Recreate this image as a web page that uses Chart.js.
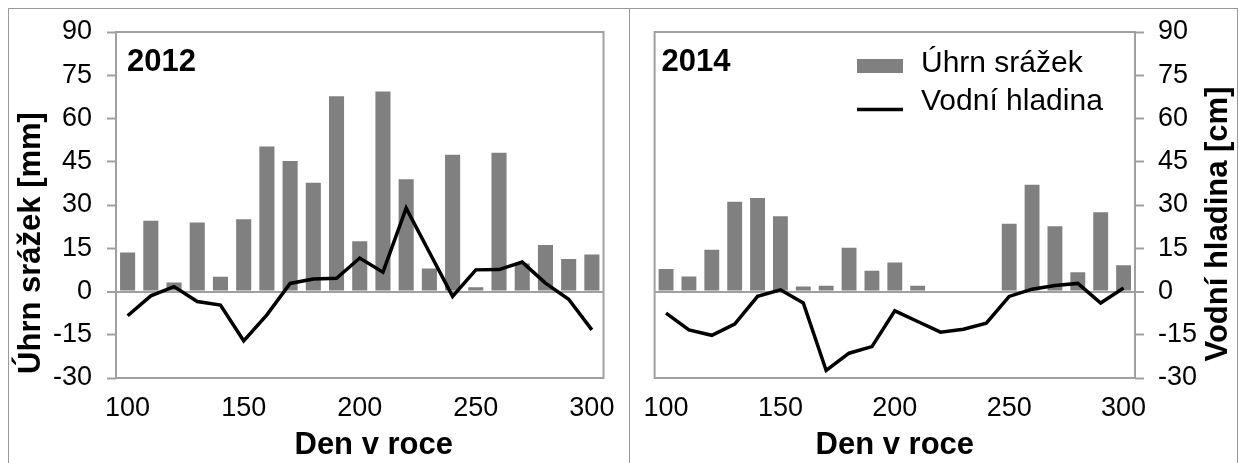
<!DOCTYPE html>
<html>
<head>
<meta charset="utf-8">
<script src="https://cdn.jsdelivr.net/npm/chart.js@4/dist/chart.umd.min.js"></script>
<style>
html,body{margin:0;padding:0;background:#fff;}
#wrap{position:relative;width:1239px;height:463px;overflow:hidden;background:#fff;}
#wrap canvas{position:absolute;top:0;}
.ln{position:absolute;background:#9a9a9a;}
</style>
</head>
<body>
<div id="wrap">
  <canvas id="c1" width="629" height="463" style="left:0;width:629px;height:463px"></canvas>
  <canvas id="c2" width="610" height="463" style="left:629px;width:610px;height:463px"></canvas>
  <div class="ln" style="left:8px;top:8px;width:1230px;height:1px"></div>
  <div class="ln" style="left:8px;top:8px;width:1px;height:455px"></div>
  <div class="ln" style="left:629px;top:8px;width:1px;height:455px"></div>
  <div class="ln" style="left:1237px;top:8px;width:1px;height:455px"></div>
</div>
<script>
// ---- data ----
const days = [100,110,120,130,140,150,160,170,180,190,200,210,220,230,240,250,260,270,280,290,300];
const dayTickLabels = [100,150,200,250,300];
const seriesNames = ['Úhrn srážek','Vodní hladina'];
const years = ['2012','2014'];
const xTitle = 'Den v roce';
const yTitleLeft = 'Úhrn srážek [mm]';
const yTitleRight = 'Vodní hladina [cm]';

const rain2012  = [13.5,24.5,3.1,23.9,5.1,25.1,50.3,45.3,37.7,67.7,17.4,69.4,38.9,8.0,47.4,1.5,48.1,9.7,16.1,11.3,12.8];
const level2012 = [-8.4,-1.5,1.7,-3.5,-4.7,-17.1,-8.1,2.8,4.3,4.6,11.6,6.7,28.9,13.6,-1.7,7.5,7.6,10.2,2.9,-2.7,-13.3];
const rain2014  = [7.8,5.2,14.5,31.1,32.4,26.1,1.7,2.0,15.2,7.2,10.1,2.0,0,0,0,23.5,37.0,22.6,6.7,27.5,9.1];
const level2014 = [-7.5,-13.3,-15.2,-11.3,-1.7,0.6,-4.0,-27.4,-21.4,-19.1,-6.7,-10.4,-14.1,-13.1,-11.0,-1.7,0.8,2.1,2.8,-4.0,1.2];

const FONT = '"Liberation Sans", Arial, sans-serif';
const GRAY = '#808080';
const FRAME = '#a0a0a0';

const decor = {
  id: 'decor',
  beforeDatasetsDraw(chart, args, o) {
    const a = chart.chartArea, ctx = chart.ctx;
    ctx.save();
    ctx.strokeStyle = FRAME; ctx.lineWidth = 2;
    ctx.strokeRect(a.left, a.top, a.right - a.left, a.bottom - a.top);
    ctx.restore();
  },
  afterDraw(chart, args, o) {
    const a = chart.chartArea, ctx = chart.ctx;
    ctx.save();
    ctx.fillStyle = '#000';
    ctx.textBaseline = 'middle';
    // year label
    ctx.font = 'bold 31px ' + FONT;
    ctx.textAlign = 'left';
    ctx.fillText(o.year, a.left + o.yearDx, 62.5);
    // x title
    ctx.font = 'bold 31px ' + FONT;
    ctx.textAlign = 'center';
    ctx.fillText(o.xTitle, (a.left + a.right) / 2 + o.xTitleDx, 445);
    // y title (reads bottom to top)
    ctx.save();
    ctx.translate(o.yTitleX, o.yTitleY);
    ctx.rotate(-Math.PI / 2);
    ctx.fillText(o.yTitle, 0, 0);
    ctx.restore();
    // legend
    if (o.legend) {
      const ds = chart.data.datasets;
      const lx = o.legendX;
      ctx.font = '30px ' + FONT;
      ctx.textAlign = 'left';
      ctx.fillStyle = ds[0].backgroundColor;
      ctx.fillRect(lx, 59, 46, 14);
      ctx.fillStyle = '#000';
      ctx.fillText(ds[0].label, lx + 64, 64);
      ctx.strokeStyle = ds[1].borderColor; ctx.lineWidth = 3.5;
      ctx.beginPath(); ctx.moveTo(lx, 109.5); ctx.lineTo(lx + 46, 109.5); ctx.stroke();
      ctx.fillText(ds[1].label, lx + 64, 102);
    }
    ctx.restore();
  }
};

function makeChart(id, rain, level, side, decorOpts, padding, yWidth) {
  return new Chart(document.getElementById(id), {
    data: {
      labels: days,
      datasets: [
        { type: 'bar', label: seriesNames[0], data: rain, backgroundColor: GRAY,
          barPercentage: 0.65, categoryPercentage: 1.0, order: 2 },
        { type: 'line', label: seriesNames[1], data: level, borderColor: '#000',
          borderWidth: 3.5, pointRadius: 0, tension: 0, fill: false, order: 1,
          borderJoinStyle: 'miter' }
      ]
    },
    options: {
      responsive: false,
      animation: false,
      devicePixelRatio: 1,
      layout: { padding: padding },
      plugins: { legend: { display: false }, tooltip: { enabled: false }, decor: decorOpts },
      scales: {
        x: {
          type: 'category',
          offset: true,
          grid: { display: false, drawTicks: false },
          border: { display: false },
          ticks: {
            autoSkip: false, maxRotation: 0, minRotation: 0, padding: 14,
            color: '#000', font: { family: FONT, size: 27 },
            callback: function (v, i) { const d = days[i]; return dayTickLabels.includes(d) ? String(d) : ''; }
          },
          afterFit(s) { s.height = 85; }
        },
        y: {
          position: side,
          min: -30, max: 90,
          border: { display: false },
          grid: {
            drawOnChartArea: true, drawTicks: true, tickLength: 9,
            color: (c) => (c.tick && c.tick.value === 0) ? FRAME : 'rgba(0,0,0,0)',
            lineWidth: (c) => (c.tick && c.tick.value === 0) ? 2 : 1,
            tickColor: FRAME, tickWidth: 2
          },
          ticks: { stepSize: 15, padding: side === 'left' ? 15 : 14, color: '#000', font: { family: FONT, size: 27 } },
          afterFit(s) { s.width = yWidth; }
        }
      }
    },
    plugins: [decor]
  });
}

makeChart('c1', rain2012, level2012, 'left',
  { year: years[0], yearDx: 11, xTitle: xTitle, xTitleDx: 14, yTitle: yTitleLeft, yTitleX: 31, yTitleY: 243, legend: false },
  { top: 32, right: 25, left: 0, bottom: 0 }, 116);

makeChart('c2', rain2014, level2014, 'right',
  { year: years[1], yearDx: 7, xTitle: xTitle, xTitleDx: 0, yTitle: yTitleRight, yTitleX: 589, yTitleY: 224, legend: true, legendX: 228 },
  { top: 32, right: 0, left: 22, bottom: 0 }, 104);
</script>
</body>
</html>
